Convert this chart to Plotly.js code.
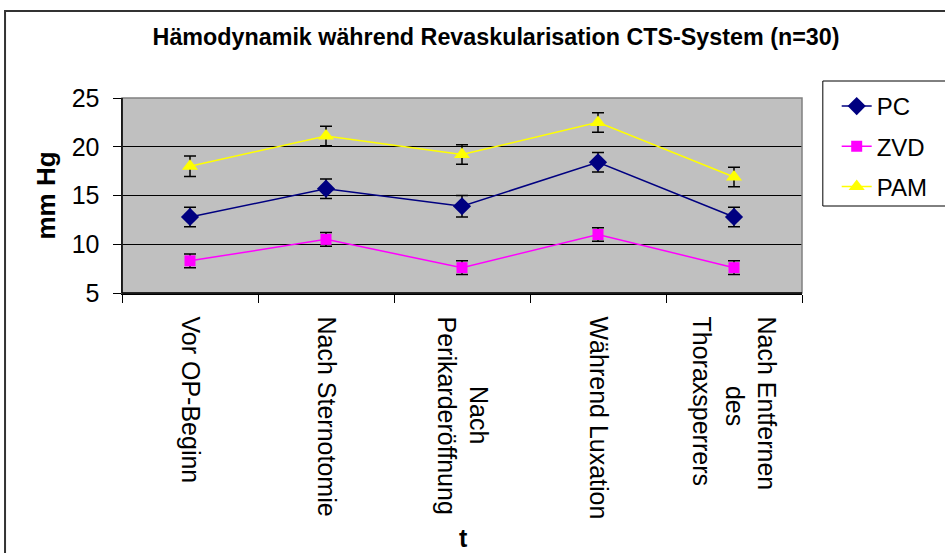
<!DOCTYPE html>
<html>
<head>
<meta charset="utf-8">
<script src="https://cdn.plot.ly/plotly-3.0.1.min.js"></script>
<style>
html,body{margin:0;padding:0;background:#fff;overflow:hidden;}
#chart{width:945px;height:553px;}
</style>
</head>
<body>
<div id="chart"></div>
<script>
var categories = ["Vor OP-Beginn", "Nach Sternotomie", "Nach Perikarderöffnung", "Während Luxation", "Nach Entfernen des Thoraxsperrers"];
var tickLines = [["Vor OP-Beginn"], ["Nach Sternotomie"], ["Nach", "Perikarderöffnung"], ["Während Luxation"], ["Nach Entfernen", "des", "Thoraxsperrers"]];
var seriesNames = ["PC", "ZVD", "PAM"];
var PC = [12.8, 15.7, 13.9, 18.4, 12.8];
var PC_err = [1.0, 1.0, 1.1, 1.0, 1.0];
var ZVD = [8.3, 10.5, 7.6, 11.0, 7.6];
var ZVD_err = [0.7, 0.7, 0.7, 0.7, 0.7];
var PAM = [18.0, 21.1, 19.2, 22.5, 16.9];
var PAM_err = [1.05, 1.0, 1.0, 1.0, 1.0];
var yTicks = [5, 10, 15, 20, 25];

var FONT = "Arial, 'Liberation Sans', sans-serif";
var XTICK_SIZE = 25;

// centre the lines of each multi-line tick label (Plotly left-aligns rotated lines)
var ctx = document.createElement("canvas").getContext("2d");
ctx.font = XTICK_SIZE + "px 'Liberation Sans', Arial, sans-serif";
var nbspW = ctx.measureText("\u00a0").width;
function centreLines(lines) {
  var ws = lines.map(function (s) { return ctx.measureText(s).width; });
  var maxW = Math.max.apply(null, ws);
  return lines.map(function (s, i) {
    var n = Math.round((maxW - ws[i]) / 2 / nbspW);
    return new Array(n + 1).join("\u00a0") + s;
  }).join("<br>");
}
var tickText = tickLines.map(centreLines);

function mk(name, y, err, color, symbol, size, grp) {
  return {
    type: "scatter", mode: "lines+markers", name: name,
    x: categories, y: y,
    legendgroup: grp,
    line: {color: color, width: 1.5},
    marker: {color: color, symbol: symbol, size: size, line: {width: 0}},
    error_y: {type: "data", array: err, visible: true, color: "#000", thickness: 1.5, width: 6}
  };
}

var data = [
  mk(seriesNames[0], PC, PC_err, "#000080", "diamond", 14, "a"),
  mk(seriesNames[1], ZVD, ZVD_err, "#FF00FF", "square", 11, "b"),
  mk(seriesNames[2], PAM, PAM_err, "#FFFF00", "triangle-up", 14, "c")
];

var L = 122, R = 808, T = 98, B = 293, W = 945, H = 553;
function px2x(p) { return (p - L) / (R - L); }
function py2y(p) { return (B - p) / (B - T); }

var layout = {
  width: W, height: H,
  margin: {l: L, r: W - R, t: T, b: H - B},
  paper_bgcolor: "#fff",
  plot_bgcolor: "#C0C0C0",
  font: {family: FONT, color: "#000"},
  showlegend: true,
  title: {
    text: "<b>Hämodynamik während Revaskularisation CTS-System (n=30)</b>",
    font: {family: FONT, size: 23.3, color: "#000"},
    xref: "container", x: 496 / W, xanchor: "center",
    yref: "container", y: 1 - 37 / H, yanchor: "middle"
  },
  xaxis: {
    type: "category",
    range: [-0.5, 4.5],
    tickmode: "array", tickvals: categories, ticktext: tickText,
    tickson: "boundaries",
    ticks: "outside", ticklen: 8, tickwidth: 1, tickcolor: "#000",
    ticklabelstandoff: 17,
    showline: true, linecolor: "#000", linewidth: 1.5,
    showgrid: false,
    tickangle: 90,
    tickfont: {family: FONT, size: XTICK_SIZE, color: "#000"},
    fixedrange: true
  },
  yaxis: {
    range: [5, 25],
    tickmode: "array", tickvals: yTicks, ticktext: yTicks.map(String),
    ticks: "outside", ticklen: 8, tickwidth: 1, tickcolor: "#000",
    ticklabelstandoff: 8,
    showline: true, linecolor: "#000", linewidth: 1.5,
    showgrid: true, gridcolor: "#000", gridwidth: 1,
    zeroline: false,
    tickfont: {family: FONT, size: 25, color: "#000"},
    title: {text: "<b>mm Hg</b>", font: {family: FONT, size: 26, color: "#000"}, standoff: 8},
    fixedrange: true
  },
  legend: {
    x: px2x(843), xanchor: "left",
    y: py2y(84), yanchor: "top",
    bgcolor: "rgba(0,0,0,0)", borderwidth: 0,
    font: {family: FONT, size: 24, color: "#000"},
    traceorder: "grouped", tracegroupgap: 6
  },
  annotations: [{
    text: "<b>t</b>", xref: "paper", yref: "paper",
    x: px2x(467), y: py2y(538), xanchor: "center", yanchor: "middle",
    showarrow: false, font: {family: FONT, size: 25, color: "#000"}
  }],
  shapes: [
    {type: "rect", xref: "paper", yref: "paper", x0: 0, x1: 1, y0: 0, y1: 1,
     line: {color: "#808080", width: 1.5}, fillcolor: "rgba(0,0,0,0)", layer: "above"},
    {type: "line", xref: "paper", yref: "paper", x0: 0, x1: 1, y0: 0, y1: 0,
     line: {color: "#000", width: 1.5}, layer: "above"},
    {type: "line", xref: "paper", yref: "paper", x0: 0, x1: 0, y0: 0, y1: 1,
     line: {color: "#000", width: 1.5}, layer: "above"},
    {type: "rect", xref: "paper", yref: "paper",
     x0: px2x(829), x1: px2x(1000), y0: py2y(81), y1: py2y(206),
     line: {color: "#000", width: 1}, fillcolor: "#fff", layer: "below"},
    {type: "rect", xref: "paper", yref: "paper",
     x0: px2x(4), x1: px2x(1000), y0: py2y(11), y1: py2y(700),
     line: {color: "#333", width: 2}, fillcolor: "rgba(0,0,0,0)", layer: "above"}
  ]
};

Plotly.newPlot("chart", data, layout, {displayModeBar: false, staticPlot: true});
</script>
</body>
</html>
